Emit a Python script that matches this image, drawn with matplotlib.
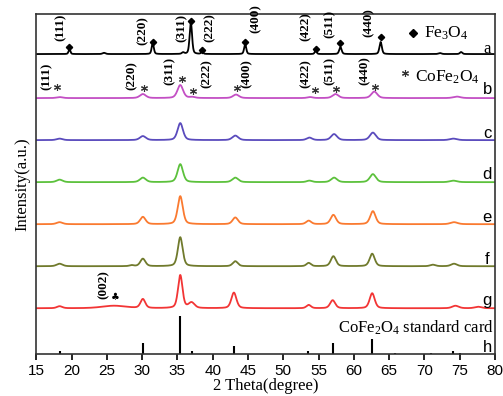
import matplotlib.pyplot as plt
import numpy as np

plt.rcParams['mathtext.fontset'] = 'custom'
plt.rcParams['mathtext.rm'] = 'Liberation Serif'
plt.rcParams['mathtext.it'] = 'Liberation Serif:italic'

SERIF = 'Liberation Serif'
SANS = 'Liberation Sans'

# peak lists: position (2theta), height, fwhm
a_pos = [19.7, 24.6, 31.5, 35.8, 36.9, 38.5, 44.6, 54.6, 58.1, 63.8, 72.2, 75.2]
a_hgt = [5, 1.2, 11, 1.5, 32, 3, 10, 4, 7, 12, 1, 2]
a_fwhm = [0.3, 0.5, 0.35, 0.4, 0.4, 0.3, 0.35, 0.3, 0.4, 0.4, 0.5, 0.4]

b_pos = [18.3, 30.1, 35.4, 37.1, 43.3, 53.8, 57.4, 62.9, 74.6]
b_hgt = [1, 4, 13, 1, 3.5, 1, 4, 6.5, 1.5]
b_fwhm = [1.0, 1.0, 0.95, 0.9, 1.0, 0.9, 1.0, 1.0, 1.2]

c_pos = [18.3, 30.1, 35.4, 43.2, 53.7, 57.2, 62.7, 74.1]
c_hgt = [1.5, 4, 17, 4.5, 2.5, 6, 7.5, 1.5]
c_fwhm = [1.0, 1.0, 0.9, 1.0, 0.9, 1.0, 1.0, 1.2]

d_pos = [18.3, 30.1, 35.4, 43.2, 53.7, 57.2, 62.7, 74.1]
d_hgt = [2.5, 4.5, 18, 4.5, 1.5, 4.5, 8, 1.5]
d_fwhm = [1.0, 1.0, 0.9, 1.0, 0.9, 1.0, 1.0, 1.2]

e_pos = [18.3, 30.1, 35.4, 43.2, 53.6, 57.1, 62.7, 74.2]
e_hgt = [2, 7.3, 28, 6.7, 3.5, 9.3, 13, 2]
e_fwhm = [1.0, 0.9, 0.85, 0.9, 0.85, 0.9, 0.9, 1.2]

f_pos = [18.3, 28.5, 30.1, 35.4, 43.2, 53.6, 57.1, 62.6, 71.2, 74.2]
f_hgt = [2.5, 1, 7.5, 29, 5, 3.3, 10, 12.5, 1.5, 2.5]
f_fwhm = [1.0, 0.7, 0.85, 0.8, 0.85, 0.75, 0.85, 0.85, 0.9, 1.0]

g_pos = [18.3, 26.0, 30.1, 35.4, 37.0, 43.0, 53.6, 57.0, 62.6, 74.4, 77.6]
g_hgt = [2, 2.5, 9, 33, 5.5, 15.6, 3.3, 8, 15, 2.5, 1.5]
g_fwhm = [0.9, 4.0, 0.8, 0.75, 1.0, 0.85, 0.75, 0.85, 0.85, 1.1, 1.1]

# standard card sticks
h_pos = [18.3, 30.1, 35.4, 37.1, 43.0, 53.5, 57.0, 62.6, 65.8, 71.0, 74.0, 75.0]
h_hgt = [3.6, 11.6, 38, 3, 8, 3.6, 11.6, 15, 1, 1, 3, 1.5]

offsets = [300, 256, 214, 172, 130, 88, 46]
colors = ['#000000', '#c34fc4', '#5a4bbd', '#5cc13c', '#fa7a30', '#707a2c', '#f23535']
names = ['a', 'b', 'c', 'd', 'e', 'f', 'g', 'h']
name_y = [305, 265, 221, 180, 137, 95, 54, 7]

fe_labels = ['(111)', '(220)', '(311)', '(222)', '(400)', '(422)', '(511)', '(440)']
fe_lab_x = [18.4, 30.1, 35.6, 39.6, 46.1, 53.2, 56.6, 62.1]
fe_lab_y = [313, 309, 312, 312, 321, 313, 316, 317]
fe_mark_x = [19.7, 31.5, 36.9, 38.5, 44.6, 54.6, 58.1, 63.8]
fe_mark_y = [307, 312, 333, 304, 312, 305, 311, 317]

co_lab_x = [16.5, 28.5, 33.9, 39.1, 44.8, 53.2, 56.6, 61.6]
co_lab_y = [264, 264, 269, 266, 266, 266, 269, 269]
co_mark_x = [17.9, 30.3, 35.6, 37.2, 43.5, 54.5, 57.5, 63.0]
co_mark_y = [267, 266, 275, 263, 266, 264, 265, 267]

two_theta = np.arange(15, 80.001, 0.02)


def profile(pos, hgt, fwhm):
    y = np.zeros_like(two_theta)
    for p, h, w in zip(pos, hgt, fwhm):
        gauss = np.exp(-4 * np.log(2) * ((two_theta - p) / w) ** 2)
        lor = 1 / (1 + 4 * ((two_theta - p) / w) ** 2)
        y += h * (0.6 * gauss + 0.4 * lor)
    return y


fig = plt.figure(figsize=(5.03, 3.96), dpi=100)
ax = fig.add_axes([0.0722, 0.1053, 0.9118, 0.8593])

traces = [(a_pos, a_hgt, a_fwhm), (b_pos, b_hgt, b_fwhm), (c_pos, c_hgt, c_fwhm),
          (d_pos, d_hgt, d_fwhm), (e_pos, e_hgt, e_fwhm), (f_pos, f_hgt, f_fwhm),
          (g_pos, g_hgt, g_fwhm)]
for (p, h, w), off, col in zip(traces, offsets, colors):
    ax.plot(two_theta, profile(p, h, w) + off, color=col, lw=1.3)

ax.vlines(h_pos, 0, h_hgt, color='black', lw=1.5)

# sample letters
for i, (n, yy) in enumerate(zip(names, name_y)):
    ax.text(78.9, yy, n, ha='center', va='center', fontsize=12,
            family=SERIF if i == 0 else SANS)

# Fe3O4 indices
for s, x, y in zip(fe_labels, fe_lab_x, fe_lab_y):
    ax.text(x, y, s, rotation=90, ha='center', va='bottom', fontsize=9.5,
            family=SERIF, weight='bold')
ax.plot(fe_mark_x, fe_mark_y, 'D', color='black', ms=3.2)

# CoFe2O4 indices
for s, x, y in zip(fe_labels, co_lab_x, co_lab_y):
    ax.text(x, y, s, rotation=90, ha='center', va='bottom', fontsize=9.5,
            family=SERIF, weight='bold')
ax.plot(co_mark_x, co_mark_y, marker=(6, 2, 0), ls='none', color='#333333', ms=5, mew=0.8)

# (002) with club sign
ax.text(24.5, 55, '(002)', rotation=90, ha='center', va='bottom', fontsize=9.5,
        family=SERIF, weight='bold')
ax.text(26.2, 57, '\u2663', ha='center', va='center', fontsize=7, family='DejaVu Sans')

# legend texts
ax.plot([68.4], [321], 'D', color='black', ms=4)
ax.text(69.9, 321, 'Fe$_3$O$_4$', ha='left', va='center', fontsize=12.5, family=SERIF)
ax.plot([67.2], [281], marker=(6, 2, 0), ls='none', color='#333333', ms=5, mew=0.8)
ax.text(68.6, 277, 'CoFe$_2$O$_4$', ha='left', va='center', fontsize=12.5, family=SERIF)
ax.text(79.9, 26, 'CoFe$_2$O$_4$ standard card', ha='right', va='center', fontsize=12, family=SERIF)

ax.set_xlim(15, 80)
ax.set_ylim(0, 340)
ax.set_xticks(np.arange(15, 81, 5))
ax.set_yticks([])
ax.tick_params(axis='x', direction='out', length=4, width=1.2, labelsize=11, pad=3)
for lab in ax.get_xticklabels():
    lab.set_family(SANS)
for sp in ax.spines.values():
    sp.set_linewidth(1.2)
    sp.set_color('#333333')

ax.set_xlabel('2 Theta(degree)', fontsize=12, family=SERIF, labelpad=0)
ax.set_ylabel('Intensity(a.u.)', fontsize=12, family=SERIF, labelpad=4)

fig.savefig('out.png', dpi=100)
